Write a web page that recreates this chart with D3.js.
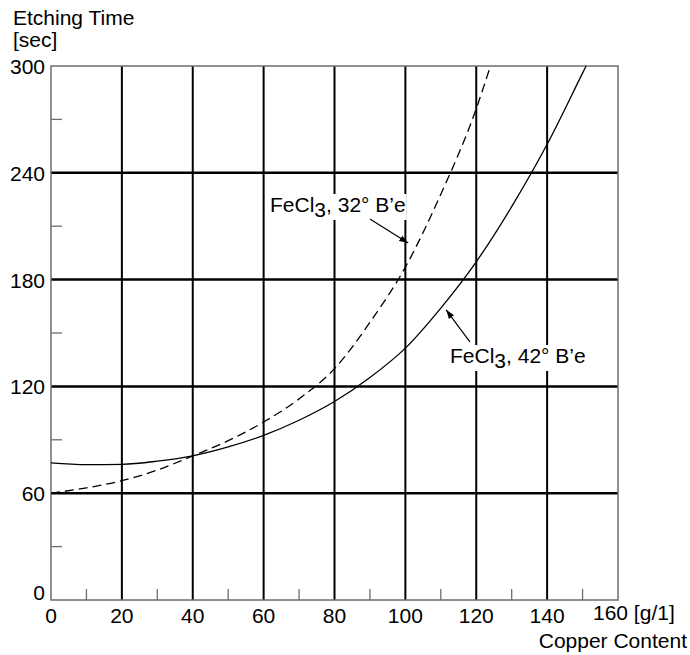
<!DOCTYPE html>
<html>
<head>
<meta charset="utf-8">
<script src="https://cdn.jsdelivr.net/npm/d3@7"></script>
<style>
  html, body { margin: 0; padding: 0; background: #fff; }
  svg { display: block; font-family: "Liberation Sans", Arial, Helvetica, sans-serif; }
</style>
</head>
<body>
<svg id="chart" width="690" height="655"></svg>
<script>
// ---- data ----
const copperContent = [0, 10, 20, 30, 40, 50, 60, 70, 80, 90, 100, 110, 120, 130, 140, 150, 151];
const time42 = [77, 76, 76.2, 78, 81, 86, 92.5, 101, 111.5, 125, 141.5, 164, 190, 221, 256, 296, 300];
const copperContent32 = [0, 10, 20, 30, 40, 50, 60, 70, 80, 90, 100, 110, 120, 124];
const time32 = [60, 63, 67, 73, 81, 89.5, 100, 113, 130, 156, 187, 228, 276, 300];
const xMajorTicks = [0, 20, 40, 60, 80, 100, 120, 140, 160];
const xMinorTicks = [10, 30, 50, 70, 90, 110, 130, 150];
const yMajorTicks = [0, 60, 120, 180, 240, 300];
const yMinorTicks = [30, 90, 150, 210, 270];
const label32 = ["FeCl", "3", ", 32° B’e"];
const label42 = ["FeCl", "3", ", 42° B’e"];
const arrow32 = { from: [90, 214], to: [100.8, 200.5] };  // data coords (x, y)
const arrow42 = { from: [118.2, 145], to: [111.5, 163] };

// ---- layout ----
const svg = d3.select("#chart");
const x = d3.scaleLinear().domain([0, 160]).range([51, 618]);
const y = d3.scaleLinear().domain([0, 300]).range([600, 66]);
const FS = 21;

// gridlines
svg.append("g").selectAll("line").data(xMajorTicks.filter(d => d > 0 && d < 160)).join("line")
  .attr("x1", d => x(d)).attr("x2", d => x(d)).attr("y1", y(0)).attr("y2", y(300))
  .attr("stroke", "#000").attr("stroke-width", 2);
svg.append("g").selectAll("line").data(yMajorTicks.filter(d => d > 0 && d < 300)).join("line")
  .attr("y1", d => y(d)).attr("y2", d => y(d)).attr("x1", x(0)).attr("x2", x(160))
  .attr("stroke", "#000").attr("stroke-width", 2.5);

// frame
svg.append("rect").attr("x", x(0)).attr("y", y(300)).attr("width", x(160) - x(0)).attr("height", y(0) - y(300))
  .attr("fill", "none").attr("stroke", "#6e6e6e").attr("stroke-width", 1.5);

// minor ticks
svg.append("g").selectAll("line").data(xMinorTicks).join("line")
  .attr("x1", d => x(d)).attr("x2", d => x(d)).attr("y1", y(0)).attr("y2", y(0) - 11)
  .attr("stroke", "#6e6e6e").attr("stroke-width", 1.3);
svg.append("g").selectAll("line").data(yMinorTicks).join("line")
  .attr("y1", d => y(d)).attr("y2", d => y(d)).attr("x1", x(0)).attr("x2", x(0) + 11)
  .attr("stroke", "#6e6e6e").attr("stroke-width", 1.3);

// tick labels
svg.append("g").selectAll("text").data(yMajorTicks).join("text")
  .attr("x", x(0) - 6).attr("y", d => d === 0 ? y(d) : y(d) + 8)
  .attr("text-anchor", "end").attr("font-size", FS).text(d => d);
svg.append("g").selectAll("text").data(xMajorTicks.filter(d => d < 160)).join("text")
  .attr("x", d => x(d)).attr("y", 623)
  .attr("text-anchor", "middle").attr("font-size", FS).text(d => d);
svg.append("text").attr("x", x(160) - 25).attr("y", 620).attr("font-size", FS)
  .text(xMajorTicks[xMajorTicks.length - 1] + " [g/1]");

// axis titles
svg.append("text").attr("x", 13).attr("y", 25).attr("font-size", FS).text("Etching Time");
svg.append("text").attr("x", 13).attr("y", 47).attr("font-size", FS).text("[sec]");
svg.append("text").attr("x", 687).attr("y", 648).attr("text-anchor", "end").attr("font-size", FS).text("Copper Content");

// annotation labels (with white knockout behind them)
function annot(parts, px, py) {
  const g = svg.append("g");
  const bg = g.append("rect").attr("fill", "#fff");
  const t = g.append("text").attr("x", px).attr("y", py).attr("font-size", FS).attr("fill", "#000");
  t.append("tspan").text(parts[0]);
  t.append("tspan").attr("dy", 5).text(parts[1]);
  t.append("tspan").attr("dy", -5).text(parts[2]);
  const b = t.node().getBBox();
  bg.attr("x", b.x - 1).attr("y", b.y + 1).attr("width", b.width + 2).attr("height", b.height - 2);
}
annot(label32, 270, 212);
annot(label42, 450, 363);

// curves
const line = d3.line().x(d => x(d[0])).y(d => y(d[1])).curve(d3.curveMonotoneX);
svg.append("path").datum(copperContent.map((c, i) => [c, time42[i]]))
  .attr("d", line).attr("fill", "none").attr("stroke", "#000").attr("stroke-width", 1.3);
svg.append("path").datum(copperContent32.map((c, i) => [c, time32[i]]))
  .attr("d", line).attr("fill", "none").attr("stroke", "#000").attr("stroke-width", 1.3)
  .attr("stroke-dasharray", "9,5");

// arrow marker
svg.append("defs").append("marker").attr("id", "ah")
  .attr("viewBox", "0 0 10 10").attr("refX", 10).attr("refY", 5)
  .attr("markerWidth", 9).attr("markerHeight", 9).attr("markerUnits", "userSpaceOnUse")
  .attr("orient", "auto")
  .append("path").attr("d", "M0,1.5 L10,5 L0,8.5 Z").attr("fill", "#000");

[arrow32, arrow42].forEach(a => {
  svg.append("line")
    .attr("x1", x(a.from[0])).attr("y1", y(a.from[1]))
    .attr("x2", x(a.to[0])).attr("y2", y(a.to[1]))
    .attr("stroke", "#000").attr("stroke-width", 1.2).attr("marker-end", "url(#ah)");
});
</script>
</body>
</html>
